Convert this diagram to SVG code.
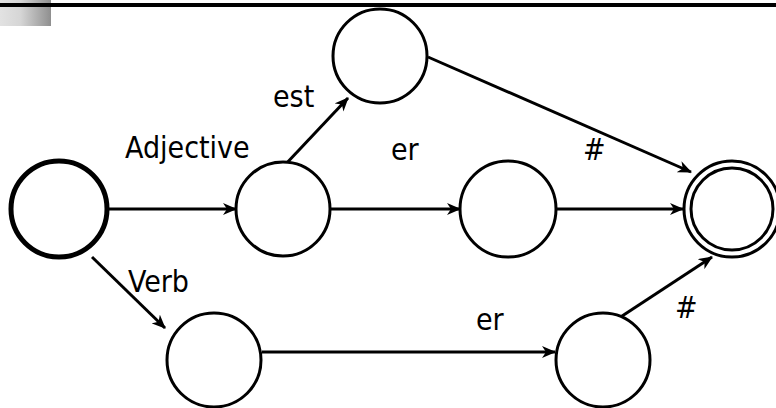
<svg xmlns="http://www.w3.org/2000/svg" width="776" height="408" viewBox="0 0 776 408">
<defs>
<linearGradient id="hdr" x1="0" y1="0" x2="1" y2="0">
<stop offset="0" stop-color="#e2e2e2"/>
<stop offset="0.4" stop-color="#d6d6d6"/>
<stop offset="1" stop-color="#8f8f8f"/>
</linearGradient>
<marker id="arr" viewBox="0 0 14 12" refX="13" refY="6" markerWidth="14" markerHeight="12" markerUnits="userSpaceOnUse" orient="auto">
<path d="M0,0 L14,6 L0,12 L4,6 Z" fill="#000"/>
</marker>
</defs>
<style>
.st{fill:#fff;stroke:#000;stroke-width:3}
.start{fill:#fff;stroke:#000;stroke-width:5}
.ed{stroke:#000;stroke-width:3;fill:none}
.arw{marker-end:url(#arr)}
text{font-family:'DejaVu Sans Condensed','Liberation Sans',sans-serif;font-size:30px;fill:#000}
</style>
<rect x="0" y="0" width="51" height="26" fill="url(#hdr)"/>
<rect x="0" y="3" width="776" height="4" fill="#000"/>
<g id="connectors">
<line class="ed arw" x1="107" y1="209" x2="236" y2="209"/>
<line class="ed arw" x1="331" y1="209" x2="460" y2="209"/>
<line class="ed arw" x1="556" y1="209" x2="683" y2="209"/>
<line class="ed arw" x1="283" y1="167" x2="348" y2="98"/>
<line class="ed arw" x1="428" y1="57" x2="691" y2="172"/>
<line class="ed arw" x1="92" y1="257" x2="165" y2="328"/>
<line class="ed arw" x1="262" y1="352" x2="555" y2="352"/>
<line class="ed arw" x1="616" y1="320" x2="712" y2="257"/>
</g>
<g id="q0"><circle class="start" cx="59" cy="209" r="48"/></g>
<g id="q1"><circle class="st" cx="283" cy="209" r="47"/></g>
<g id="q2"><circle class="st" cx="380" cy="56" r="47"/></g>
<g id="q3"><circle class="st" cx="508" cy="209" r="48"/></g>
<g id="q4"><circle class="st" cx="732" cy="209" r="48"/><circle class="st" cx="732" cy="209" r="41"/></g>
<g id="q5"><circle class="st" cx="214" cy="360" r="47"/></g>
<g id="q6"><circle class="st" cx="603" cy="360" r="47"/></g>
<g id="labels">
<text x="125" y="158">Adjective</text>
<text x="273" y="107">est</text>
<text x="391" y="160">er</text>
<text x="583" y="160">#</text>
<text x="128" y="292">Verb</text>
<text x="476" y="330">er</text>
<text x="675" y="318">#</text>
</g>
</svg>
